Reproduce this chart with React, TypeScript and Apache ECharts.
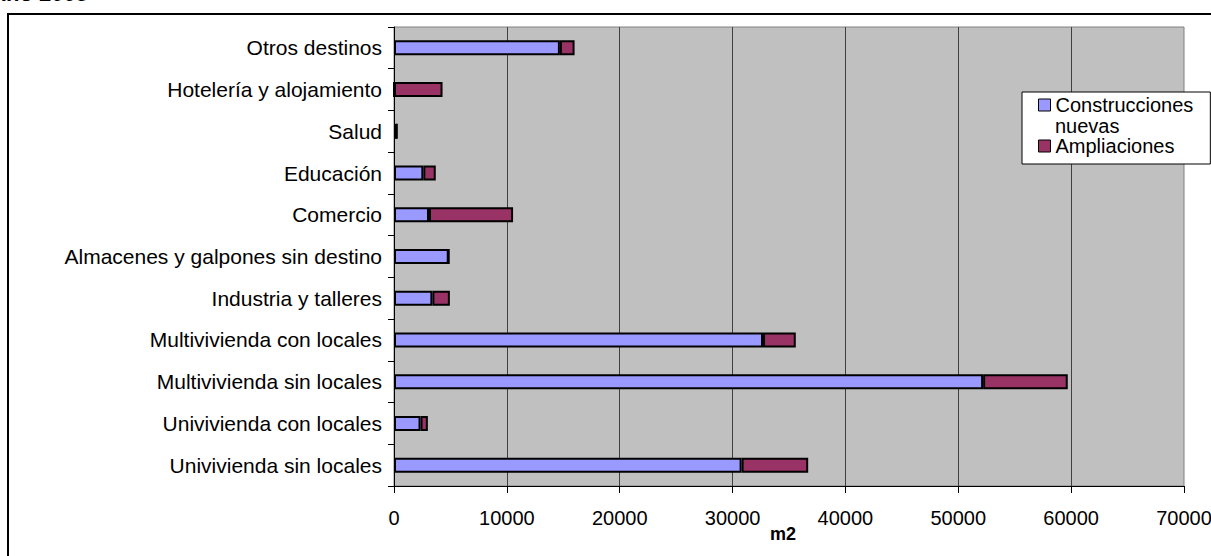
import React, { useEffect, useRef } from "react";
import * as echarts from "echarts";

const categories = [
  "Univivienda sin locales",
  "Univivienda con locales",
  "Multivivienda sin locales",
  "Multivivienda con locales",
  "Industria y talleres",
  "Almacenes y galpones sin destino",
  "Comercio",
  "Educación",
  "Salud",
  "Hotelería y alojamiento",
  "Otros destinos",
];

const construccionesNuevas = [30800, 2350, 52200, 32700, 3400, 4850, 3100, 2600, 250, 0, 14700];
const ampliaciones = [5900, 650, 7500, 2900, 1550, 0, 7450, 1100, 0, 4300, 1300];

const xTicks = { min: 0, max: 70000, interval: 10000 };
const seriesNames = ["Construcciones nuevas", "Ampliaciones"];
const titleText = "Año 2005";
const axisName = "m2";

const FONT = "'Liberation Sans', Arial, Helvetica, sans-serif";

export default function App() {
  const ref = useRef<HTMLDivElement>(null);

  useEffect(() => {
    if (!ref.current) return;
    const chart = echarts.init(ref.current, undefined, { renderer: "svg" });
    chart.setOption({
      animation: false,
      backgroundColor: "#ffffff",
      textStyle: { fontFamily: FONT },
      grid: {
        left: 394,
        right: 27,
        top: 27,
        bottom: 70,
        show: true,
        backgroundColor: "#c0c0c0",
        borderColor: "#808080",
        borderWidth: 1,
        containLabel: false,
        outerBoundsMode: "none",
      },
      legend: {
        orient: "vertical",
        left: 1022,
        top: 92,
        padding: [3, 17, 8, 16],
        itemWidth: 12,
        itemHeight: 12,
        itemGap: 21,
        backgroundColor: "#ffffff",
        borderColor: "#000000",
        borderWidth: 1,
        borderRadius: 0,
        icon: "rect",
        itemStyle: { borderColor: "#000000", borderWidth: 1 },
        textStyle: { fontSize: 20, color: "#000000", fontFamily: FONT },
        formatter: (name: string) => (name === seriesNames[0] ? "Construcciones" : name),
        data: seriesNames,
      },
      xAxis: {
        type: "value",
        min: xTicks.min,
        max: xTicks.max,
        interval: xTicks.interval,
        name: axisName,
        nameLocation: "middle",
        nameGap: 39,
        nameMoveOverlap: false,
        nameTextStyle: {
          fontSize: 18,
          fontWeight: "bold",
          color: "#000000",
          fontFamily: FONT,
          padding: [0, 12, 0, 0],
        },
        axisLine: { show: true, lineStyle: { color: "#000000", width: 1 } },
        axisTick: { show: true, length: 7, lineStyle: { color: "#000000" } },
        axisLabel: {
          fontSize: 20,
          color: "#000000",
          margin: 22,
          fontFamily: FONT,
          formatter: (v: number) => String(v),
        },
        splitLine: {
          show: true,
          showMinLine: false,
          showMaxLine: false,
          lineStyle: { color: "#404040", width: 1 },
        },
      },
      yAxis: {
        type: "category",
        data: categories,
        axisLine: { show: true, lineStyle: { color: "#000000", width: 1 } },
        axisTick: { show: true, length: 6, lineStyle: { color: "#000000" } },
        axisLabel: { fontSize: 21, color: "#000000", margin: 12, fontFamily: FONT },
        splitLine: { show: false },
      },
      series: [
        {
          name: seriesNames[0],
          type: "bar",
          stack: "total",
          barWidth: 15,
          data: construccionesNuevas,
          itemStyle: { color: "#9999ff", borderColor: "#000000", borderWidth: 2 },
        },
        {
          name: seriesNames[1],
          type: "bar",
          stack: "total",
          barWidth: 15,
          data: ampliaciones,
          itemStyle: { color: "#993366", borderColor: "#000000", borderWidth: 2 },
        },
      ],
      graphic: [
        {
          type: "rect",
          z: -10,
          silent: true,
          shape: { x: 8, y: 14, width: 1230, height: 600 },
          style: { fill: "none", stroke: "#000000", lineWidth: 2 },
        },
        {
          type: "text",
          x: 88,
          y: 4,
          silent: true,
          style: {
            text: titleText,
            fontSize: 22,
            fontWeight: "bold",
            fontFamily: FONT,
            fill: "#000000",
            align: "right",
            verticalAlign: "bottom",
          },
        },
        {
          type: "text",
          x: 1055,
          y: 126,
          z: 100,
          silent: true,
          style: {
            text: "nuevas",
            fontSize: 20,
            fontFamily: FONT,
            fill: "#000000",
            align: "left",
            verticalAlign: "middle",
          },
        },
      ],
    });
    return () => chart.dispose();
  }, []);

  return (
    <div
      ref={ref}
      style={{ position: "fixed", left: 0, top: 0, width: 1211, height: 556 }}
    />
  );
}
